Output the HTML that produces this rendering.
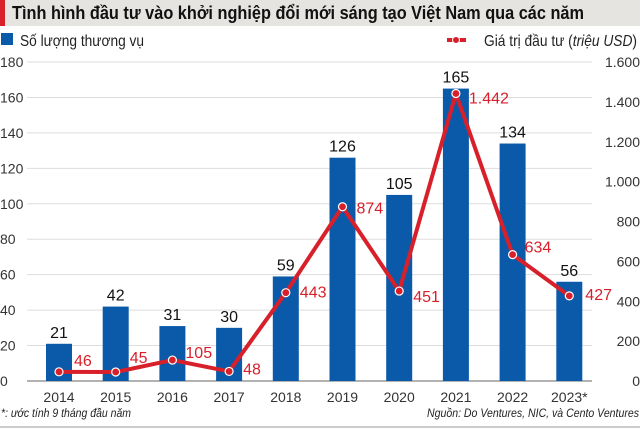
<!DOCTYPE html>
<html><head><meta charset="utf-8"><style>
body{margin:0;background:#fff;width:640px;height:429px;overflow:hidden;font-family:"Liberation Sans","Noto Sans CJK SC",sans-serif}
svg text{font-family:"Liberation Sans","Noto Sans CJK SC",sans-serif}
</style></head><body>
<svg id="chart" width="640" height="429" viewBox="0 0 640 429" xmlns="http://www.w3.org/2000/svg">
<rect x="0" y="0" width="640" height="26" fill="#e6e4e1"/>
<rect x="0" y="0" width="5" height="26" fill="#d8202a"/>
<text x="12" y="19" font-size="18" font-weight="bold" fill="#111" textLength="572" lengthAdjust="spacingAndGlyphs">Tình hình đầu tư vào khởi nghiệp đổi mới sáng tạo Việt Nam qua các năm</text>
<rect x="1" y="33" width="12" height="12" fill="#0b5aa9"/>
<text x="20" y="46" font-size="16" fill="#222" textLength="124" lengthAdjust="spacingAndGlyphs">Số lượng thương vụ</text>
<line x1="447" y1="40" x2="466" y2="40" stroke="#d8202a" stroke-width="4"/>
<circle cx="456" cy="40" r="3.5" fill="#d8202a" stroke="#fff" stroke-width="1"/>
<text x="484" y="46" font-size="16" fill="#222" textLength="153" lengthAdjust="spacingAndGlyphs">Giá trị đầu tư (<tspan font-style="italic">triệu USD</tspan>)</text>
<g id="grid"></g><g id="bars"></g><g id="line"></g><g id="labels"></g>
<text x="1" y="417" font-size="12" font-style="italic" fill="#222" textLength="130" lengthAdjust="spacingAndGlyphs">*: ước tính 9 tháng đầu năm</text>
<text x="639" y="417" font-size="12" font-style="italic" fill="#222" text-anchor="end" textLength="212" lengthAdjust="spacingAndGlyphs">Nguồn: Do Ventures, NIC, và Cento Ventures</text>
<line x1="0" y1="427" x2="640" y2="427" stroke="#999" stroke-width="1"/>
</svg>
<script>
const years=["2014","2015","2016","2017","2018","2019","2020","2021","2022","2023*"];
const deals=[21,42,31,30,59,126,105,165,134,56];
const invest=[46,45,105,48,443,874,451,1442,634,427];
const leftTicks=[0,20,40,60,80,100,120,140,160,180];
const rightTicks=["0","200","400","600","800","1.000","1.200","1.400","1.600"];
const investLabels=["46","45","105","48","443","874","451","1.442","634","427"];
const NS="http://www.w3.org/2000/svg";
const y0=381,yTop=62;
const yL=v=>y0-(v/180)*(y0-yTop);
const yR=v=>y0-(v/1600)*(y0-yTop);
const xC=i=>59+i*56.7;
function mk(tag,attrs,parent,txt){const e=document.createElementNS(NS,tag);for(const k in attrs)e.setAttribute(k,attrs[k]);if(txt!==undefined)e.textContent=txt;document.getElementById(parent).appendChild(e);return e;}
leftTicks.forEach((t,i)=>{
 const l=mk('line',{x1:27,x2:592,y1:yL(t),y2:yL(t),stroke:t===0?'#666':'#ddd','stroke-width':1},'grid');
 
 
 const tx=mk('text',{x:0,y:yL(t)+5,'font-size':14,fill:'#333'},'grid',t);
 
 
});
rightTicks.forEach((t,i)=>{
 const tx=mk('text',{x:640,y:yR(i*200)+5,'font-size':14,fill:'#333','text-anchor':'end'},'grid',t);
 
 
});
years.forEach((yr,i)=>{
 const b=mk('rect',{x:xC(i)-13,y:yL(deals[i]),width:26,height:y0-yL(deals[i]),fill:'#0b5aa9'},'bars');
 
 
 const v=mk('text',{x:xC(i),y:yL(deals[i])-6,'font-size':16,fill:'#111','text-anchor':'middle'},'labels',deals[i]);
 
 
 const x=mk('text',{x:xC(i),y:402,'font-size':14,fill:'#333','text-anchor':'middle'},'labels',yr);
 
 
});
const pts=invest.map((v,i)=>xC(i)+','+yR(v)).join(' ');
const pl=mk('polyline',{points:pts,fill:'none',stroke:'#d8202a','stroke-width':4,'stroke-linejoin':'round'},'line');


const off=[[15,-12],[14,-15],[13,-8],[14,-3],[14,-1],[14,1],[14,5],[13,4],[12,-8],[16,-2]];
invest.forEach((v,i)=>{
 const c=mk('circle',{cx:xC(i),cy:yR(v),r:4,fill:'#d8202a',stroke:'#fff','stroke-width':1.2},'line');
 
 
 const t=mk('text',{x:xC(i)+off[i][0],y:yR(v)+off[i][1]+6,'font-size':16,fill:'#d8202a'},'labels',investLabels[i]);
 
 
});
</script>
</body></html>
